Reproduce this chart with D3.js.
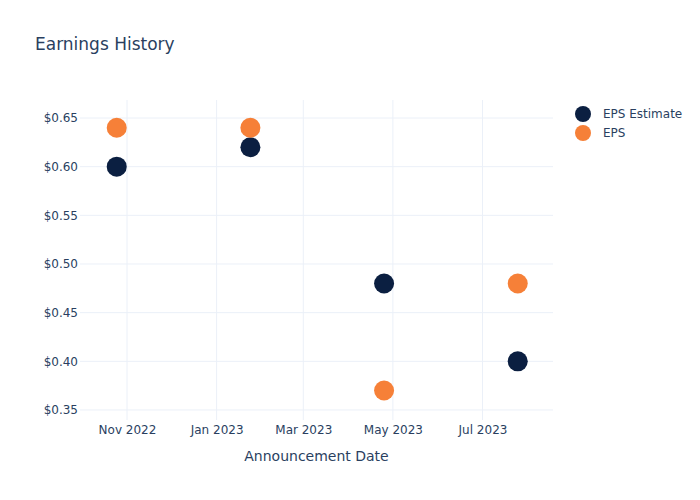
<!DOCTYPE html>
<html>
<head>
<meta charset="utf-8">
<script src="https://cdn.jsdelivr.net/npm/d3@7"></script>
<style>
  body { margin: 0; background: #fff; }
  text { font-family: "DejaVu Sans", sans-serif; fill: #2a3f5f; }
</style>
</head>
<body>
<svg id="chart" width="700" height="500"></svg>
<script>
const dates = ["2022-10-25", "2023-01-24", "2023-04-25", "2023-07-25"];
const epsEstimate = [0.60, 0.62, 0.48, 0.40];
const eps = [0.64, 0.64, 0.37, 0.48];
const yTicks = [0.35, 0.40, 0.45, 0.50, 0.55, 0.60, 0.65];
const xTicks = ["2022-11-01", "2023-01-01", "2023-03-01", "2023-05-01", "2023-07-01"];
const seriesNames = ["EPS Estimate", "EPS"];
const colors = ["#0b1f41", "#f68038"];

const parse = d3.utcParse("%Y-%m-%d");
const svg = d3.select("#chart");
const W = 700, H = 500;
const m = { l: 80, r: 147, t: 100, b: 80 };
const iw = W - m.l - m.r, ih = H - m.t - m.b;
const FONT = "'DejaVu Sans', sans-serif";

const x = d3.scaleUtc()
  .domain([parse("2022-09-30"), parse("2023-08-18")])
  .range([m.l, m.l + iw]);
const y = d3.scaleLinear()
  .domain([0.3397, 0.6685])
  .range([m.t + ih, m.t]);

svg.append("rect").attr("width", W).attr("height", H).attr("fill", "#fff");

const grid = svg.append("g");
grid.selectAll("line.y").data(yTicks).join("line")
  .attr("x1", m.l).attr("x2", m.l + iw)
  .attr("y1", d => y(d)).attr("y2", d => y(d))
  .attr("stroke", "#ebf0f8").attr("stroke-width", 1);
grid.selectAll("line.x").data(xTicks).join("line")
  .attr("y1", m.t).attr("y2", m.t + ih)
  .attr("x1", d => x(parse(d))).attr("x2", d => x(parse(d)))
  .attr("stroke", "#ebf0f8").attr("stroke-width", 1);

// Y axis
const yAxis = d3.axisLeft(y).tickValues(yTicks).tickSize(0).tickPadding(2)
  .tickFormat(d => "$" + d3.format(".2f")(d));
const gy = svg.append("g").attr("transform", `translate(${m.l},0)`).call(yAxis);
gy.select(".domain").remove();
gy.selectAll("text").attr("font-size", 12).style("fill", "#2a3f5f")
  .attr("font-family", FONT);

// X axis
const xAxis = d3.axisBottom(x).tickValues(xTicks.map(parse)).tickSize(0).tickPadding(5)
  .tickFormat(d3.utcFormat("%b %Y"));
const gx = svg.append("g").attr("transform", `translate(0,${m.t + ih})`).call(xAxis);
gx.select(".domain").remove();
gx.selectAll("text").attr("font-size", 12).style("fill", "#2a3f5f")
  .attr("font-family", FONT);

// Axis title
svg.append("text").attr("x", m.l + iw / 2).attr("y", 461)
  .attr("text-anchor", "middle").attr("font-size", 14).text("Announcement Date");

// Title
svg.append("text").attr("x", 35).attr("y", 50)
  .attr("font-size", 17).text("Earnings History");

// Points
const series = [epsEstimate, eps];
series.forEach((vals, si) => {
  svg.append("g").selectAll("circle").data(vals).join("circle")
    .attr("cx", (d, i) => x(parse(dates[i])))
    .attr("cy", d => y(d))
    .attr("r", 10)
    .attr("fill", colors[si]);
});

// Legend
const lg = svg.append("g");
seriesNames.forEach((name, i) => {
  const ly = 114 + i * 19;
  lg.append("circle").attr("cx", 583).attr("cy", ly).attr("r", 8).attr("fill", colors[i]);
  lg.append("text").attr("x", 603).attr("y", ly + 4).attr("font-size", 12).text(name);
});
</script>
</body>
</html>
